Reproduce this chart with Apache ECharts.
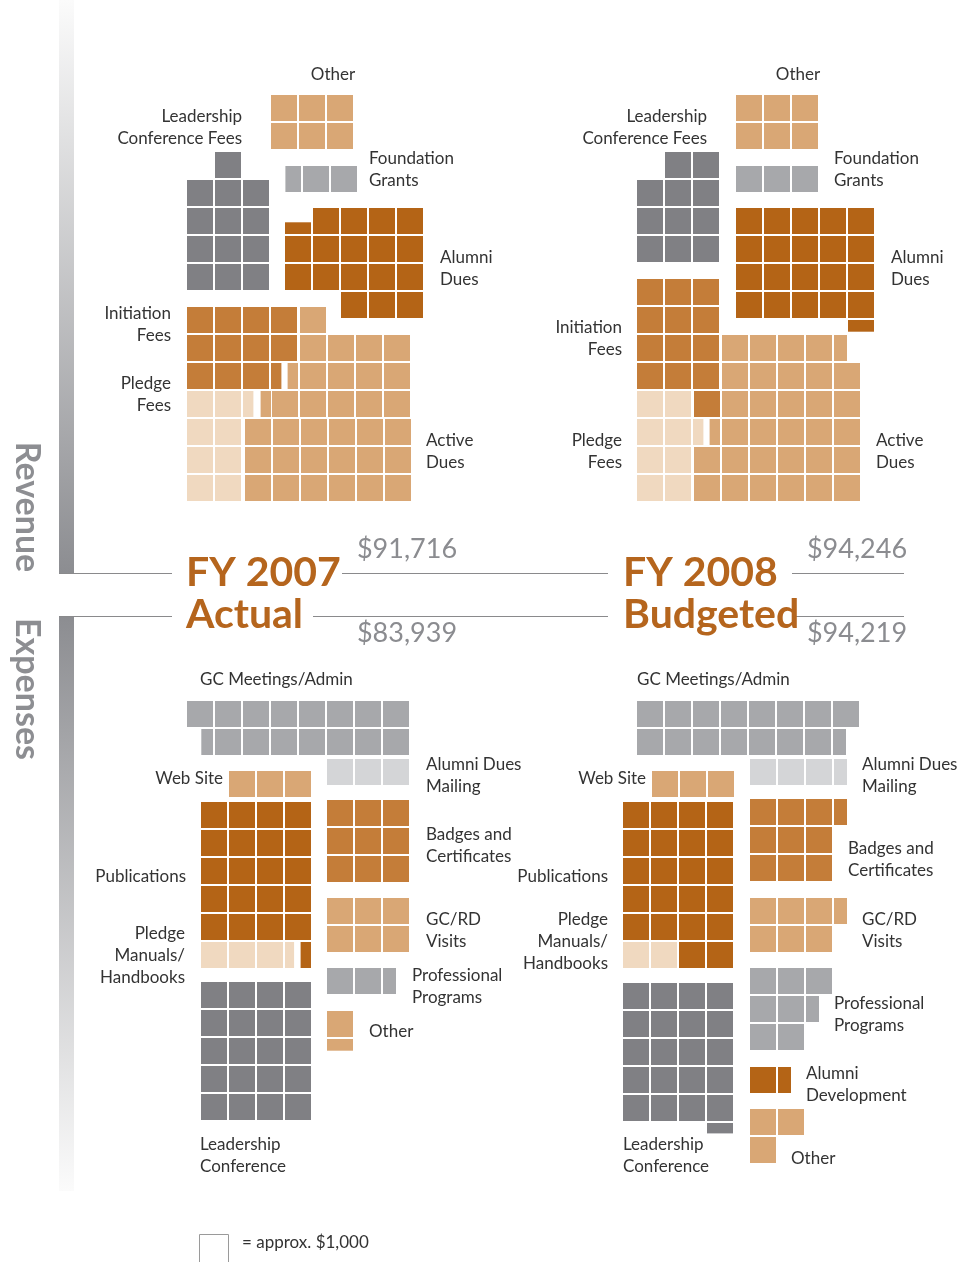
<!DOCTYPE html>
<html><head><meta charset="utf-8">
<script src="https://cdn.jsdelivr.net/npm/echarts@6/dist/echarts.min.js"></script>
<style>html,body{margin:0;padding:0;background:#fff}#c{width:968px;height:1262px}</style>
</head><body><div id="c"></div><script>
// ---------- DATA (units of ~$1,000) ----------
const revenueCategories = ['Other', 'Leadership\nConference Fees', 'Foundation\nGrants', 'Alumni\nDues', 'Initiation\nFees', 'Pledge\nFees', 'Active\nDues'];
const revenueFY2007 = [6, 13, 2.6, 17.45, 11.4, 8.4, 32.8];
const revenueFY2008 = [6, 11, 3, 20.45, 13, 8.4, 31.9];
const expenseCategories = ['GC Meetings/Admin', 'Alumni Dues\nMailing', 'Web Site', 'Publications', 'Pledge\nManuals/\nHandbooks', 'Leadership\nConference', 'Badges and\nCertificates', 'GC/RD\nVisits', 'Professional\nPrograms', 'Alumni\nDevelopment', 'Other'];
const expenseFY2007 = [15.45, 3, 3, 20.4, 3.35, 20, 9, 6, 2.5, 0, 1.45];
const expenseFY2008 = [15.5, 3.5, 3, 22, 2, 20.4, 9.5, 6.5, 7.5, 1.5, 3];
const yearTitles = ['FY 2007', 'Actual', 'FY 2008', 'Budgeted'];
const revenueTotals = ['$91,716', '$94,246'];
const expenseTotals = ['$83,939', '$94,219'];
const sectionNames = ['Revenue', 'Expenses'];
const legendText = '= approx. $1,000';

// ---------- STYLE ----------
const palette = {
  tan: '#D9A775', dgray: '#808084', mgray: '#A7A8AB', lgray: '#D4D5D7',
  dorange: '#B46416', morange: '#C47D39', light: '#F0D9C0'
};
const revenueColors = ['tan', 'dgray', 'mgray', 'dorange', 'morange', 'light', 'tan'];
const expenseColors = ['mgray', 'lgray', 'tan', 'dorange', 'light', 'dgray', 'morange', 'tan', 'mgray', 'dorange', 'tan'];
const FONT = 'Lato, "Open Sans", sans-serif';
const TXT = '#333333';

// ---------- LAYOUT (slot positions, fill order) ----------
const P = 28, S = 26;
function row(y, x0, n) { const a = []; for (let i = 0; i < n; i++) a.push([x0 + i * P, y, 1, 'f']); return a; }
function part(x, y, cap, anc) { return [[x, y, cap, anc]]; }
function rows(y0, n, x0, k) { let a = []; for (let r = 0; r < n; r++) a = a.concat(row(y0 + r * P, x0, k)); return a; }

const rev07Slots = [
  rows(95, 2, 271, 3),
  [...row(152, 215, 1), ...rows(180, 4, 187, 3)],
  [...row(166, 303, 2), ...part(275, 166, 0.6, 'r')],
  [...row(208, 313, 4), ...rows(236, 2, 285, 5), ...row(292, 341, 3), ...part(285, 208, 0.45, 'b')],
  [...rows(307, 2, 187, 4), ...row(363, 187, 3), ...part(271, 363, 0.4, 'l')],
  [...rows(391, 4, 187, 2), ...part(243, 391, 0.4, 'l')],
  [...row(307, 300, 1), ...rows(335, 2, 300, 4), ...row(391, 272, 5), ...rows(419, 3, 245, 6), ...part(272, 363, 0.4, 'r'), ...part(245, 391, 0.4, 'r')]
];
const rev08Slots = [
  rows(95, 2, 736, 3),
  [...row(152, 665, 2), ...rows(180, 3, 637, 3)],
  row(166, 736, 3),
  [...rows(208, 4, 736, 5), ...part(848, 320, 0.45, 't')],
  [...rows(279, 4, 637, 3), ...row(391, 694, 1)],
  [...rows(391, 4, 637, 2), ...part(693, 419, 0.4, 'l')],
  [...row(335, 722, 4), ...rows(363, 3, 722, 5), ...rows(447, 2, 694, 6), ...part(834, 335, 0.5, 'l'), ...part(694, 419, 0.4, 'r')]
];
const exp07Slots = [
  [...row(701, 187, 8), ...row(729, 215, 7), ...part(187, 729, 0.45, 'r')],
  row(759, 327, 3),
  row(771, 229, 3),
  [...rows(802, 5, 201, 4), ...part(285, 942, 0.4, 'r')],
  [...row(942, 201, 3), ...part(285, 942, 0.35, 'l')],
  rows(982, 5, 201, 4),
  rows(800, 3, 327, 3),
  rows(898, 2, 327, 3),
  [...row(968, 327, 2), ...part(383, 968, 0.5, 'l')],
  [],
  [...row(1011, 327, 1), ...part(327, 1039, 0.45, 't')]
];
const exp08Slots = [
  [...row(701, 637, 8), ...row(729, 637, 7), ...part(833, 729, 0.5, 'l')],
  [...row(759, 750, 3), ...part(834, 759, 0.5, 'l')],
  row(771, 652, 3),
  [...rows(802, 5, 623, 4), ...row(942, 679, 2)],
  row(942, 623, 2),
  [...rows(983, 5, 623, 4), ...part(707, 1123, 0.4, 't')],
  [...row(799, 750, 3), ...part(834, 799, 0.5, 'l'), ...rows(827, 2, 750, 3)],
  [...row(898, 750, 3), ...part(834, 898, 0.5, 'l'), ...row(926, 750, 3)],
  [...row(968, 750, 3), ...row(996, 750, 2), ...part(806, 996, 0.5, 'l'), ...row(1024, 750, 2)],
  [...row(1067, 750, 1), ...part(778, 1067, 0.5, 'l')],
  [...row(1109, 750, 2), ...row(1137, 750, 1)]
];

// label anchors: [x, yFirstLineCenter, align]
const rev07Lab = [[333,75,'center'],[242,117,'right'],[369,159,'left'],[440,258,'left'],[171,314,'right'],[171,384,'right'],[426,441,'left']];
const rev08Lab = [[798,75,'center'],[707,117,'right'],[834,159,'left'],[891,258,'left'],[622,328,'right'],[622,441,'right'],[876,441,'left']];
const exp07Lab = [[200,680,'left'],[426,765,'left'],[223,779,'right'],[186,877,'right'],[185,934,'right'],[200,1145,'left'],[426,835,'left'],[426,920,'left'],[412,976,'left'],null,[369,1032,'left']];
const exp08Lab = [[637,680,'left'],[862,765,'left'],[646,779,'right'],[608,877,'right'],[608,920,'right'],[623,1145,'left'],[848,849,'left'],[862,920,'left'],[834,1004,'left'],[806,1074,'left'],[791,1159,'left']];

// ---------- BUILD ----------
function blockCells(value, slots, colorKey) {
  let rem = value; const out = [];
  for (const [x, y, cap, anc] of slots) {
    if (rem <= 1e-6) break;
    const a = Math.min(rem, cap); rem -= a;
    let w = S, h = S, xx = x, yy = y;
    if (anc === 'f' || anc === 'l') { w = S * a; }
    else if (anc === 'r') { w = S * a; xx = x + S - w; }
    else if (anc === 't') { h = S * a; }
    else if (anc === 'b') { h = S * a; yy = y + S - h; }
    out.push([xx, yy, w, h, colorKey]);
  }
  return out;
}
let cells = [];
revenueFY2007.forEach((v, i) => cells = cells.concat(blockCells(v, rev07Slots[i], revenueColors[i])));
revenueFY2008.forEach((v, i) => cells = cells.concat(blockCells(v, rev08Slots[i], revenueColors[i])));
expenseFY2007.forEach((v, i) => cells = cells.concat(blockCells(v, exp07Slots[i], expenseColors[i])));
expenseFY2008.forEach((v, i) => cells = cells.concat(blockCells(v, exp08Slots[i], expenseColors[i])));

const graphics = [];
function label(text, x, y, align, size, color, weight, lh) {
  lh = lh || 22;
  graphics.push({ type: 'text', x: x, y: y - lh / 2, z: 10, silent: true,
    style: { text: text, fill: color, font: (weight || 'normal') + ' ' + size + 'px ' + FONT,
      align: align, textAlign: align, verticalAlign: 'top', textVerticalAlign: 'top', lineHeight: lh } });
}
function addLabels(cats, vals, labs) {
  cats.forEach((c, i) => { if (labs[i] && vals[i] > 0) label(c, labs[i][0], labs[i][1], labs[i][2], 17, TXT); });
}
addLabels(revenueCategories, revenueFY2007, rev07Lab);
addLabels(revenueCategories, revenueFY2008, rev08Lab);
addLabels(expenseCategories, expenseFY2007, exp07Lab);
addLabels(expenseCategories, expenseFY2008, exp08Lab);

// side bars
graphics.push({ type: 'rect', shape: { x: 59, y: 0, width: 15, height: 573 }, silent: true,
  style: { fill: { type: 'linear', x: 0, y: 0, x2: 0, y2: 1, colorStops: [{ offset: 0, color: '#FBFBFB' }, { offset: 1, color: '#8C8D91' }] } } });
graphics.push({ type: 'rect', shape: { x: 59, y: 616, width: 15, height: 575 }, silent: true,
  style: { fill: { type: 'linear', x: 0, y: 0, x2: 0, y2: 1, colorStops: [{ offset: 0, color: '#8C8D91' }, { offset: 1, color: '#FBFBFB' }] } } });
// rules
const lineSegs = [[59,172,573.5],[342,608,573.5],[792,904,573.5],[59,172,616.5],[313,608,616.5],[795,904,616.5]];
lineSegs.forEach(s => graphics.push({ type: 'line', silent: true, shape: { x1: s[0], y1: s[2], x2: s[1], y2: s[2] }, style: { stroke: '#8A8A8C', lineWidth: 1 } }));
// section names (rotated)
graphics.push({ type: 'text', x: 27, y: 507, rotation: -Math.PI / 2, silent: true,
  style: { text: sectionNames[0], fill: '#8D8E92', font: 'bold 34px ' + FONT, align: 'center', textAlign: 'center', verticalAlign: 'middle', textVerticalAlign: 'middle' } });
graphics.push({ type: 'text', x: 27, y: 689, rotation: -Math.PI / 2, silent: true,
  style: { text: sectionNames[1], fill: '#8D8E92', font: 'bold 34px ' + FONT, align: 'center', textAlign: 'center', verticalAlign: 'middle', textVerticalAlign: 'middle' } });
// titles
const ORANGE = '#B5651D';
function title(t, x, y) {
  graphics.push({ type: 'text', x: x, y: y, silent: true, z: 10,
    style: { text: t, fill: ORANGE, font: 'bold 41px ' + FONT, align: 'left', textAlign: 'left', verticalAlign: 'middle', textVerticalAlign: 'middle' } });
}
title(yearTitles[0], 186, 573); title(yearTitles[1], 186, 615);
title(yearTitles[2], 623, 573); title(yearTitles[3], 623, 615);
function total(t, x, y) {
  graphics.push({ type: 'text', x: x, y: y, silent: true,
    style: { text: t, fill: '#8B8C90', font: 'normal 27px ' + FONT, align: 'center', textAlign: 'center', verticalAlign: 'middle', textVerticalAlign: 'middle' } });
}
total(revenueTotals[0], 407, 549); total(expenseTotals[0], 407, 633);
total(revenueTotals[1], 857, 549); total(expenseTotals[1], 857, 633);
// legend
graphics.push({ type: 'rect', silent: true, shape: { x: 199.5, y: 1234.5, width: 29, height: 30 }, style: { fill: '#fff', stroke: '#9A9A9A', lineWidth: 1 } });
label(legendText, 242, 1243, 'left', 17, TXT);

const chart = echarts.init(document.getElementById('c'), null, { renderer: 'canvas' });
chart.setOption({
  animation: false,
  backgroundColor: '#ffffff',
  grid: { left: 0, top: 0, right: 0, bottom: 0 },
  xAxis: { type: 'value', min: 0, max: 968, show: false },
  yAxis: { type: 'value', min: 0, max: 1262, inverse: true, show: false },
  graphic: graphics,
  series: [{
    type: 'custom', data: cells, silent: true,
    renderItem: function (params, api) {
      const p = api.coord([api.value(0), api.value(1)]);
      const s = api.size([api.value(2), api.value(3)]);
      return { type: 'rect', shape: { x: p[0], y: p[1], width: s[0], height: s[1] },
        style: { fill: palette[cells[params.dataIndex][4]] } };
    }
  }]
});
</script></body></html>
